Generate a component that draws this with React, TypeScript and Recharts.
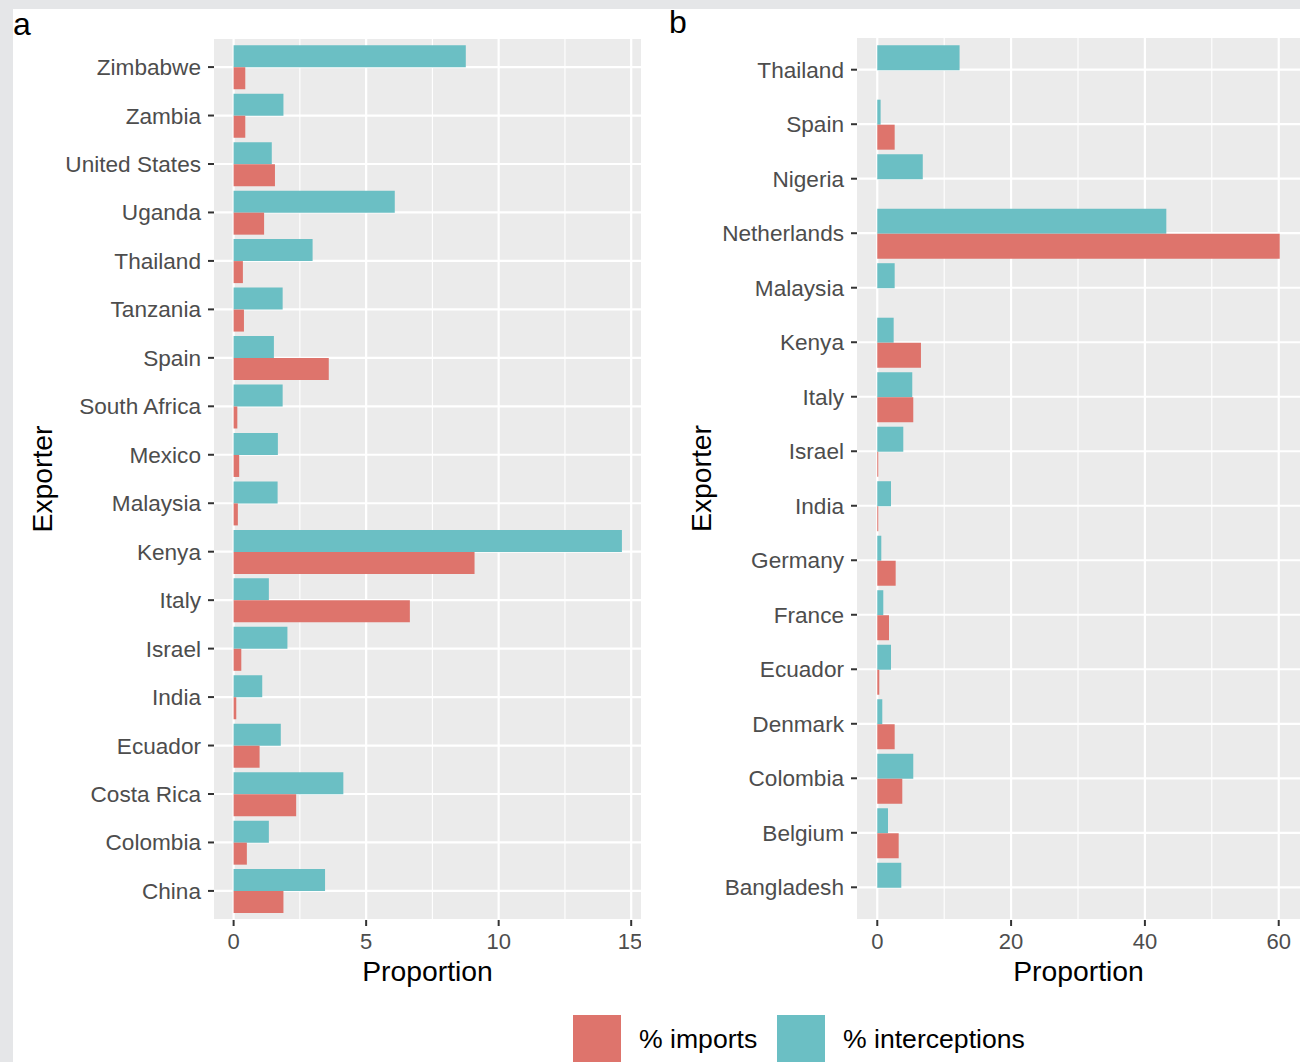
import React from 'react';
import { BarChart, Bar, XAxis, YAxis, CartesianGrid, Label } from 'recharts';

// ---------- Panel a ----------
const exportersA = [
  'Zimbabwe', 'Zambia', 'United States', 'Uganda', 'Thailand', 'Tanzania', 'Spain',
  'South Africa', 'Mexico', 'Malaysia', 'Kenya', 'Italy', 'Israel', 'India',
  'Ecuador', 'Costa Rica', 'Colombia', 'China',
];
const importsA = [0.44, 0.44, 1.56, 1.15, 0.35, 0.39, 3.59, 0.14, 0.21, 0.16, 9.09, 6.65, 0.29, 0.1, 0.98, 2.36, 0.5, 1.88];
const interceptionsA = [8.76, 1.88, 1.44, 6.08, 2.98, 1.85, 1.52, 1.85, 1.67, 1.66, 14.65, 1.33, 2.03, 1.08, 1.78, 4.14, 1.33, 3.45];
const majorTicksA = [0, 5, 10, 15];
const minorTicksA = [2.5, 7.5, 12.5];
const domainA: [number, number] = [-0.74, 15.37];

// ---------- Panel b ----------
const exportersB = [
  'Thailand', 'Spain', 'Nigeria', 'Netherlands', 'Malaysia', 'Kenya', 'Italy', 'Israel',
  'India', 'Germany', 'France', 'Ecuador', 'Denmark', 'Colombia', 'Belgium', 'Bangladesh',
];
const importsB = [0, 2.6, 0, 60.15, 0, 6.53, 5.38, 0.15, 0.15, 2.75, 1.75, 0.3, 2.6, 3.74, 3.2, 0];
const interceptionsB = [12.3, 0.5, 6.8, 43.2, 2.6, 2.45, 5.23, 3.89, 2.05, 0.6, 0.9, 2.05, 0.75, 5.38, 1.6, 3.59];
const majorTicksB = [0, 20, 40, 60];
const minorTicksB = [10, 30, 50];
const domainB: [number, number] = [-3.03, 63.18];

// ---------- Series ----------
const seriesKeys = ['imports', 'interceptions'];
const seriesNames = ['% imports', '% interceptions'];
const seriesColors = ['#DE746C', '#6BBFC4'];

const FONT = "'Liberation Sans', Arial, Helvetica, sans-serif";
const Y_TICK_STYLE = { fontSize: 22.6, fill: '#4D4D4D', fontFamily: FONT };
const X_TICK_STYLE = { fontSize: 22, fill: '#4D4D4D', fontFamily: FONT };

function buildData(names: string[], imp: number[], inter: number[]) {
  return names.map((n, i) => ({ exporter: n, imports: imp[i], interceptions: inter[i] }));
}

type PanelProps = {
  data: any[];
  left: number;
  width: number;
  marginTop: number;
  yWidth: number;
  domain: [number, number];
  major: number[];
  minor: number[];
  titleOffset: number;
};

const CHART_H = 1000;
const X_AXIS_H = 80;

function Panel({ data, left, width, marginTop, yWidth, domain, major, minor, titleOffset }: PanelProps) {
  const plotH = CHART_H - marginTop - X_AXIS_H;
  const band = plotH / (data.length - 1 + 1.2);
  const pad = band * 0.1;
  return (
    <div style={{ position: 'absolute', left, top: 0, width, height: CHART_H }}>
      <BarChart
        width={width}
        height={CHART_H}
        data={data}
        layout="vertical"
        margin={{ top: marginTop, right: 0, bottom: 0, left: 0 }}
        barCategoryGap="5%"
        barGap={0}
      >
        <CartesianGrid
          fill="#EBEBEB"
          stroke="#FFFFFF"
          strokeWidth={2.2}
          verticalValues={major}
        />
        <CartesianGrid
          stroke="#FFFFFF"
          strokeWidth={1.1}
          horizontal={false}
          verticalValues={minor}
        />
        <XAxis
          type="number"
          domain={domain}
          allowDataOverflow
          ticks={major}
          height={X_AXIS_H}
          axisLine={false}
          tickLine={{ stroke: '#333333', strokeWidth: 2 }}
          tickSize={6}
          tickMargin={7}
          tick={X_TICK_STYLE}
        >
          <Label
            content={(p: any) => {
              const vb = p.viewBox || { x: 0, y: 0, width: 0, height: 0 };
              return (
                <text
                  x={vb.x + vb.width / 2}
                  y={vb.y + 61}
                  textAnchor="middle"
                  fontSize={28.3}
                  fontFamily={FONT}
                  fill="#000000"
                >
                  Proportion
                </text>
              );
            }}
          />
        </XAxis>
        <YAxis
          type="category"
          dataKey="exporter"
          width={yWidth}
          interval={0}
          padding={{ top: pad, bottom: pad }}
          axisLine={false}
          tickLine={{ stroke: '#333333', strokeWidth: 2 }}
          tickSize={6}
          tickMargin={7}
          tick={Y_TICK_STYLE}
        >
          <Label
            content={(p: any) => {
              const vb = p.viewBox || { x: 0, y: 0, width: 0, height: 0 };
              const cx = vb.x + titleOffset;
              const cy = vb.y + vb.height / 2;
              return (
                <text
                  x={cx}
                  y={cy}
                  transform={`rotate(-90 ${cx} ${cy})`}
                  textAnchor="middle"
                  fontSize={28.3}
                  fontFamily={FONT}
                  fill="#000000"
                >
                  Exporter
                </text>
              );
            }}
          />
        </YAxis>
        <Bar dataKey={seriesKeys[1]} name={seriesNames[1]} fill={seriesColors[1]} isAnimationActive={false} />
        <Bar dataKey={seriesKeys[0]} name={seriesNames[0]} fill={seriesColors[0]} isAnimationActive={false} />
      </BarChart>
    </div>
  );
}

export default function App() {
  const dataA = buildData(exportersA, importsA, interceptionsA);
  const dataB = buildData(exportersB, importsB, interceptionsB);
  const legendX = [573, 777];
  return (
    <div
      style={{
        position: 'absolute',
        left: 0,
        top: 0,
        width: 1300,
        height: 1062,
        background: '#E5E6E8',
        overflow: 'hidden',
        fontFamily: FONT,
      }}
    >
      <div style={{ position: 'absolute', left: 13, top: 9, width: 1287, height: 1053, background: '#FFFFFF' }} />
      <Panel
        data={dataA}
        left={0}
        width={641}
        marginTop={38}
        yWidth={214}
        domain={domainA}
        major={majorTicksA}
        minor={minorTicksA}
        titleOffset={52}
      />
      <Panel
        data={dataB}
        left={660}
        width={640}
        marginTop={37}
        yWidth={197}
        domain={domainB}
        major={majorTicksB}
        minor={minorTicksB}
        titleOffset={51}
      />
      <svg
        width={1300}
        height={1062}
        style={{ position: 'absolute', left: 0, top: 0, pointerEvents: 'none' }}
      >
        <text x={13} y={35} fontSize={32} fontFamily={FONT} fill="#000000">a</text>
        <text x={669} y={33} fontSize={32} fontFamily={FONT} fill="#000000">b</text>
        {seriesNames.map((name, i) => (
          <g key={name}>
            <rect x={legendX[i]} y={1015} width={48} height={48} fill={seriesColors[i]} />
            <text x={legendX[i] + 66} y={1048} fontSize={26.6} fontFamily={FONT} fill="#000000">
              {name}
            </text>
          </g>
        ))}
      </svg>
    </div>
  );
}
